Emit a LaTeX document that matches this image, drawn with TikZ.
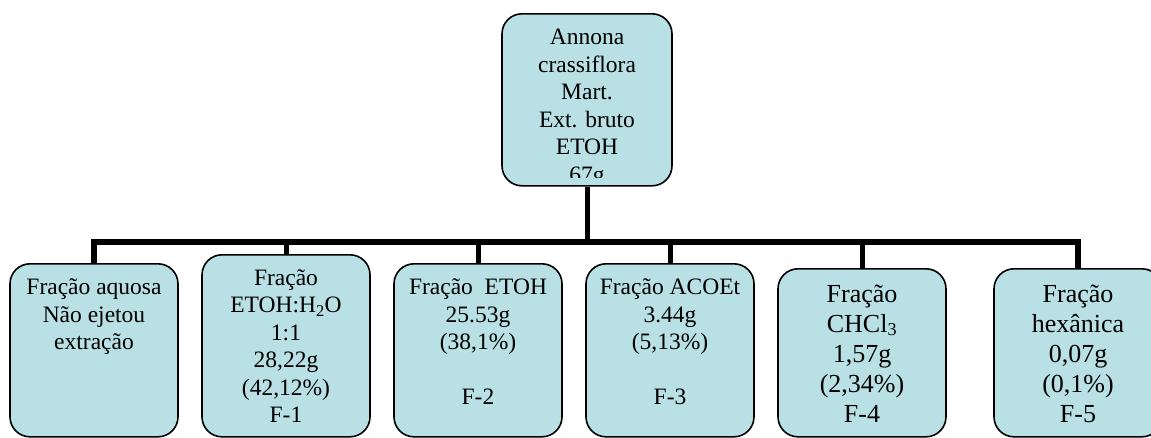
\documentclass[tikz,border=0pt]{standalone}
\usepackage{fontspec}
\setmainfont{Liberation Serif}
\usetikzlibrary{positioning}

\definecolor{boxfill}{RGB}{185,224,228}

\tikzset{
	fbox/.style={draw, line width=1.6pt, rounded corners=20pt, fill=boxfill, minimum width=168pt, anchor=north, inner sep=0pt},
	ftext/.style={align=center, inner sep=0pt, font=\fontsize{23.5}{27.5}\selectfont},
	fbig/.style={ftext, font=\fontsize{26}{30}\selectfont},
	link/.style={line width=5pt},
}

\begin{document}
\begin{tikzpicture}[x=1pt, y=-1pt]
		\useasboundingbox (0,0) rectangle (1151,437);
		
		% extrato bruto
		\node[fbox, minimum width=170pt, minimum height=172pt] (top) at (587,13) {};
		
		% frações
		\node[fbox, minimum height=173pt] (f1) at (94,263) {};
		\node[fbox, minimum height=182pt] (f2) at (286,254) {};
		\node[fbox, minimum height=173pt] (f3) at (478,263) {};
		\node[fbox, minimum height=173pt] (f4) at (670,263) {};
		\node[fbox, minimum height=168pt] (f5) at (862,268) {};
		\node[fbox, minimum height=168pt] (f6) at (1078,268) {};
		
		% ligações
		\coordinate (bus) at (587,242);
		\draw[link] (top.south) -- (bus);
		\draw[link, line width=6pt] (f1.north) |- (bus) -| (f6.north);
		\foreach \f in {f2, f3, f4, f5}
			\draw[link] (\f.north) -- (\f.north |- bus);
		
		% textos
		\begin{scope}
			\clip ([yshift=9pt]top.south west) rectangle (top.north east);
			\node[ftext, below=12.5pt of top.north] (t0) {\strut Annona\\ crassiflora\\ Mart.\\ Ext. bruto\\ ETOH\\ 67g};
		\end{scope}
		\node[ftext, below=12.5pt of f1.north] (t1) {\strut Fração aquosa\\ Não ejetou\\ extração};
		\node[ftext, below=12pt of f2.north] (t2) {\strut Fração\\ ETOH:H\textsubscript{2}O\\ 1:1\\ 28,22g\\ (42,12\%)\\ F-1};
		\node[ftext, below=12.5pt of f3.north] (t3) {\strut Fração~ ETOH\\ 25.53g\\ (38,1\%)\\ \mbox{}\\ F-2};
		\node[ftext, below=12.5pt of f4.north] (t4) {\strut Fração ACOEt\\ 3.44g\\ (5,13\%)\\ \mbox{}\\ F-3};
		\node[fbig, below=13pt of f5.north] (t5) {\strut Fração\\ CHCl\textsubscript{3}\\ 1,57g\\ (2,34\%)\\ F-4};
		\node[fbig, below=13pt of f6.north] (t6) {\strut Fração\\ hexânica\\ 0,07g\\ (0,1\%)\\ F-5};
	\end{tikzpicture}
\end{document}
